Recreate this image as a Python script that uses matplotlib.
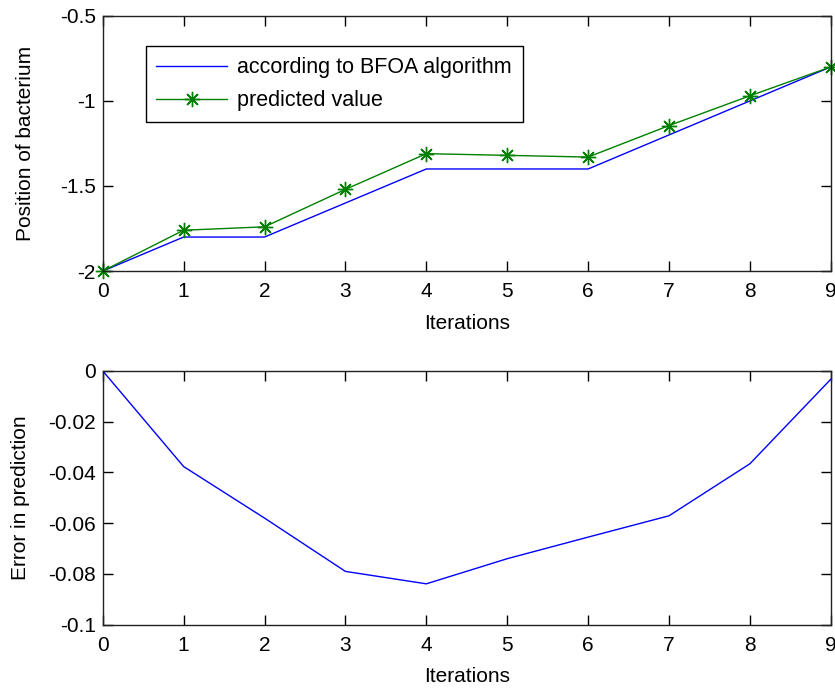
import matplotlib
matplotlib.use("Agg")
import matplotlib.pyplot as plt

plt.rcParams['font.family'] = ['Liberation Sans', 'DejaVu Sans']
fs = 15

# data
iterations = [0, 1, 2, 3, 4, 5, 6, 7, 8, 9]
bfoa_pos = [-2.0, -1.8, -1.8, -1.6, -1.4, -1.4, -1.4, -1.2, -1.0, -0.8]
predicted_pos = [-2.0, -1.76, -1.74, -1.52, -1.31, -1.32, -1.33, -1.145, -0.97, -0.80]
pred_error = [0.0, -0.0377, -0.058, -0.079, -0.0839, -0.074, -0.0655, -0.0571, -0.0366, -0.0033]

top_yticks = [-2, -1.5, -1, -0.5]
top_yticklabels = ['-2', '-1.5', '-1', '-0.5']
bot_yticks = [-0.1, -0.08, -0.06, -0.04, -0.02, 0]
bot_yticklabels = ['-0.1', '-0.08', '-0.06', '-0.04', '-0.02', '0']

fig = plt.figure(figsize=(8.35, 6.88), dpi=100)
ax1 = fig.add_axes([0.123, 0.606, 0.872, 0.371])
ax2 = fig.add_axes([0.123, 0.092, 0.872, 0.369])


def style_axes(ax):
    ax.tick_params(axis='both', direction='in', length=7, width=1, top=True, right=True,
                   labelsize=fs, colors='black')
    ax.tick_params(axis='x', pad=8)
    ax.tick_params(axis='y', pad=5)
    for sp in ax.spines.values():
        sp.set_linewidth(1.0)
        sp.set_color('#222222')
    ax.set_xlim(0, 9)
    ax.set_xticks(iterations)
    ax.set_xlabel('Iterations', fontsize=fs, labelpad=9)


# top: positions
ax1.plot(iterations, bfoa_pos, color='#0000ff', lw=1.0, label='according to BFOA algorithm')
ax1.plot(iterations, predicted_pos, color='#008000', lw=1.0, marker=(8, 2, 0), markersize=11,
         markeredgewidth=1.0, label='predicted value', clip_on=False)
style_axes(ax1)
ax1.set_ylim(-2, -0.5)
ax1.set_yticks(top_yticks)
ax1.set_yticklabels(top_yticklabels)
ax1.set_ylabel('Position of bacterium', fontsize=fs, labelpad=18)
leg = ax1.legend(loc='upper left', bbox_to_anchor=(0.059, 0.88), fontsize=15.5,
                 frameon=True, fancybox=False, edgecolor='black', framealpha=1,
                 handlelength=3.3, borderpad=0.5, labelspacing=0.55, handletextpad=0.45,
                 borderaxespad=0)
leg.get_frame().set_linewidth(1.0)

# bottom: error
ax2.plot(iterations, pred_error, color='#0000ff', lw=1.0)
style_axes(ax2)
ax2.set_ylim(-0.1, 0)
ax2.set_yticks(bot_yticks)
ax2.set_yticklabels(bot_yticklabels)
ax2.set_ylabel('Error in prediction', fontsize=fs, labelpad=13)

fig.savefig('out.png', dpi=100)
